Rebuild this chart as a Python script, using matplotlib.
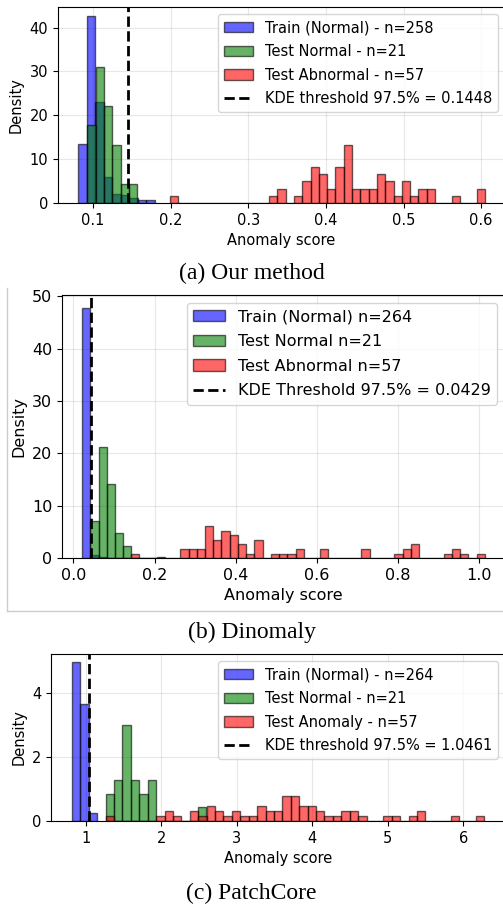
import numpy as np
import matplotlib
matplotlib.use("Agg")
import matplotlib.pyplot as plt
from matplotlib.lines import Line2D

# ---- data (bin range + counts per bin) ----
# (a) Our method
a_train_range = (0.0812, 0.1795)
a_train_counts = [38, 120, 65, 17, 6, 5, 3, 2, 2]
a_normal_range = (0.0927, 0.1573)
a_normal_counts = [4, 7, 5, 3, 1, 1]
a_abn_range = (0.1987, 0.6047)
a_abn_counts = [1, 0, 0, 0, 0, 0, 0, 0, 0, 0, 0, 0, 1, 2, 0, 1, 3, 5, 4, 2,
                5, 8, 2, 2, 2, 4, 3, 1, 3, 1, 2, 2, 0, 0, 1, 0, 0, 2]
a_thr = 0.1448
a_labels = ["Train (Normal) - n=258", "Test Normal - n=21",
            "Test Abnormal - n=57", "KDE threshold 97.5% = 0.1448"]

# (b) Dinomaly
b_train_range = (0.0215, 0.2265)
b_train_counts = [259, 3, 1, 0, 0, 0, 0, 0, 0, 1]
b_normal_range = (0.042, 0.143)
b_normal_counts = [3, 9, 6, 2, 1]
b_abn_range = (0.1418, 1.0148)
b_abn_counts = [1, 0, 0, 0, 0, 0, 2, 2, 2, 7, 4, 6, 5, 3, 1, 4, 0, 1, 1, 1,
                2, 0, 0, 2, 0, 0, 0, 0, 2, 0, 0, 0, 1, 2, 3, 0, 0, 0, 1, 2,
                1, 0, 1]
b_thr = 0.0429
b_labels = ["Train (Normal) n=264", "Test Normal n=21",
            "Test Abnormal n=57", "KDE Threshold 97.5% = 0.0429"]

# (c) PatchCore
c_train_range = (0.811, 1.149)
c_train_counts = [148, 109, 7]
c_normal_range = (1.2606, 2.5966)
c_normal_counts = [2, 3, 7, 3, 2, 3, 0, 0, 0, 0, 0, 1]
c_abn_range = (1.2606, 6.279)
c_abn_counts = [1, 0, 0, 0, 0, 0, 1, 2, 1, 0, 2, 1, 3, 2, 1, 2, 1, 1, 3, 2,
                2, 5, 5, 3, 3, 2, 1, 1, 2, 2, 1, 0, 0, 1, 1, 0, 1, 2, 0, 0,
                0, 1, 0, 0, 1]
c_thr = 1.0461
c_labels = ["Train (Normal) - n=264", "Test Normal - n=21",
            "Test Anomaly - n=57", "KDE threshold 97.5% = 1.0461"]

captions = ["(a) Our method", "(b) Dinomaly", "(c) PatchCore"]


def draw_hist(ax, rng, counts, color, label):
    edges = np.linspace(rng[0], rng[1], len(counts) + 1)
    centers = (edges[:-1] + edges[1:]) / 2
    ax.hist(centers, bins=edges, weights=counts, density=True, color=color,
            alpha=0.6, edgecolor="black", linewidth=1, label=label)


def panel(ax, series, thr, labels, fs):
    for (rng, counts), color, lab in zip(series, ["blue", "green", "red"], labels):
        draw_hist(ax, rng, counts, color, lab)
    ax.axvline(thr, color="black", linestyle="--", linewidth=2, label=labels[3])
    ax.set_xlabel("Anomaly score", fontsize=fs)
    ax.set_ylabel("Density", fontsize=fs)
    ax.tick_params(labelsize=fs)
    ax.grid(True, alpha=0.3)
    ax.set_axisbelow(True)
    ax.legend(loc="upper right", fontsize=fs, labelspacing=0.6)


fig = plt.figure(figsize=(5.03, 9.09), dpi=100)

ax_a = fig.add_axes([0.1153, 0.7767, 0.889, 0.2156])
panel(ax_a, [(a_train_range, a_train_counts), (a_normal_range, a_normal_counts),
             (a_abn_range, a_abn_counts)], a_thr, a_labels, 10.5)

ax_b = fig.add_axes([0.1233, 0.3861, 0.8807, 0.2893])
panel(ax_b, [(b_train_range, b_train_counts), (b_normal_range, b_normal_counts),
             (b_abn_range, b_abn_counts)], b_thr, b_labels, 11.5)

ax_c = fig.add_axes([0.1014, 0.0968, 0.9026, 0.1837])
panel(ax_c, [(c_train_range, c_train_counts), (c_normal_range, c_normal_counts),
             (c_abn_range, c_abn_counts)], c_thr, c_labels, 10.5)
ax_c.set_yticks([0, 2, 4])

# thin frame around the middle image
fig.add_artist(Line2D([7 / 503, 7 / 503], [1 - 288 / 909, 1 - 611 / 909],
                      color="#cccccc", linewidth=1))
fig.add_artist(Line2D([7 / 503, 1], [1 - 611 / 909, 1 - 611 / 909],
                      color="#cccccc", linewidth=1))

for cap, y in zip(captions, [273, 632, 893]):
    fig.text(0.5, 1 - y / 909, cap, ha="center", va="center",
             fontsize=17, family="Liberation Serif")

fig.savefig("out.png", dpi=100)
